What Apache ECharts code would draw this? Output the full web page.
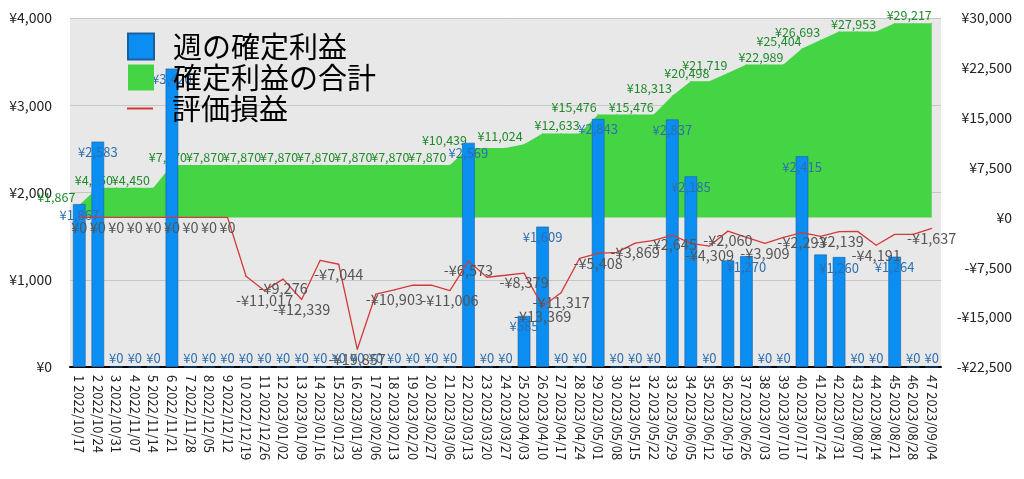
<!DOCTYPE html>
<html>
<head>
<meta charset="utf-8">
<script src="https://cdn.jsdelivr.net/npm/echarts@6/dist/echarts.min.js"></script>
<style>html,body{margin:0;padding:0;background:#fff;}#c{width:1024px;height:479px;}</style>
</head>
<body>
<div id="c"></div>
<script>
const categories = ['1 2022/10/17','2 2022/10/24','3 2022/10/31','4 2022/11/07','5 2022/11/14','6 2022/11/21','7 2022/11/28','8 2022/12/05','9 2022/12/12','10 2022/12/19','11 2022/12/26','12 2023/01/02','13 2023/01/09','14 2023/01/16','15 2023/01/23','16 2023/01/30','17 2023/02/06','18 2023/02/13','19 2023/02/20','20 2023/02/27','21 2023/03/06','22 2023/03/13','23 2023/03/20','24 2023/03/27','25 2023/04/03','26 2023/04/10','27 2023/04/17','28 2023/04/24','29 2023/05/01','30 2023/05/08','31 2023/05/15','32 2023/05/22','33 2023/05/29','34 2023/06/05','35 2023/06/12','36 2023/06/19','37 2023/06/26','38 2023/07/03','39 2023/07/10','40 2023/07/17','41 2023/07/24','42 2023/07/31','43 2023/08/07','44 2023/08/14','45 2023/08/21','46 2023/08/28','47 2023/09/04'];
const weeklyProfit = [1867,2583,0,0,0,3420,0,0,0,0, 0,0,0,0,0,0,0,0,0,0, 0,2569,0,0,585,1609,0,0,2843,0, 0,0,2837,2185,0,1221,1270,0,0,2415, 1289,1260,0,0,1264,0,0];
const cumulativeProfit = [1867,4450,4450,4450,4450,7870,7870,7870,7870,7870, 7870,7870,7870,7870,7870,7870,7870,7870,7870,7870, 7870,10439,10439,10439,11024,12633,12633,12633,15476,15476, 15476,15476,18313,20498,20498,21719,22989,22989,22989,25404, 26693,27953,27953,27953,29217,29217,29217];
const unrealized = [0,0,0,0,0,0,0,0,0,-8850, -11017,-9276,-12339,-6450,-7044,-19857,-11550,-10903,-10200,-10200, -11006,-6573,-9000,-8700,-8379,-13369,-11317,-6150,-5408,-5250, -3869,-3450,-2645,-3900,-4309,-2060,-3000,-3909,-3000,-2293, -2850,-2139,-2100,-4191,-2550,-2550,-1637];
const leftTicks = {min: 0, max: 4000, interval: 1000};
const rightTicks = {min: -22500, max: 30000, interval: 7500};
const seriesNames = ['週の確定利益', '確定利益の合計', '評価損益'];
// which data labels are displayed in the reference (1-based point numbers) and their horizontal nudge
const hiddenBarLabels = [36, 41];
const hiddenLineLabels = [10,14,17,19,20,23,24,28,30,32,34,37,39,41,43,45,46];
const shownAreaLabels = [1,2,4,6,8,10,12,14,16,18,20,22,25,27,29,31,33,34,36,38,40,41,43,46];
const areaLabelNudge = {1:-23, 22:-24, 25:-24, 29:-24, 33:-23, 36:-23, 40:-23, 41:-23};

const FONT = '"Noto Sans CJK JP", "Noto Sans", sans-serif';
function yen(v) {
  const a = Math.abs(Math.round(v)).toLocaleString('en-US');
  return (v < 0 ? '-¥' : '¥') + a;
}

const chart = echarts.init(document.getElementById('c'), null, {renderer: 'canvas'});
const barData = weeklyProfit.map((v, i) => {
  if (hiddenBarLabels.includes(i + 1)) return {value: v, label: {show: false}};
  if (v === 0) return {value: v, label: {position: 'top', distance: 2}};
  return {value: v};
});
const lineData = unrealized.map((v, i) => hiddenLineLabels.includes(i + 1) ? {value: v, label: {show: false}} : {value: v});
const areaData = cumulativeProfit.map((v, i) => {
  const n = i + 1;
  if (!shownAreaLabels.includes(n)) return {value: v, label: {show: false}};
  const dx = (n in areaLabelNudge) ? areaLabelNudge[n] : -4;
  return {value: v, label: {offset: [dx, 0]}};
});

chart.setOption({
  animation: false,
  textStyle: {fontFamily: FONT},
  grid: {left: 70, right: 83, top: 18, bottom: 112, show: true, backgroundColor: '#e8e8e8', borderWidth: 0},
  legend: [
    {
      data: [seriesNames[0], seriesNames[1]],
      orient: 'vertical', left: 122, top: 26, itemWidth: 26, itemHeight: 26, itemGap: 0,
      icon: 'rect',
      textStyle: {fontSize: 29, color: '#000', fontFamily: FONT, lineHeight: 31, padding: [0, 0, 0, 14]}
    },
    {
      data: [seriesNames[2]],
      orient: 'vertical', left: 122, top: 88, itemWidth: 26, itemHeight: 2, itemGap: 0,
      icon: 'rect',
      textStyle: {fontSize: 29, color: '#000', fontFamily: FONT, lineHeight: 31, padding: [0, 0, 0, 14]}
    }
  ],
  xAxis: {
    type: 'category', data: categories,
    axisLine: {lineStyle: {color: '#000', width: 2}},
    axisTick: {show: false},
    axisLabel: {rotate: -90, interval: 0, fontSize: 13, color: '#222', margin: 8, fontFamily: FONT},
    splitLine: {show: false}
  },
  yAxis: [
    {
      type: 'value', min: leftTicks.min, max: leftTicks.max, interval: leftTicks.interval,
      axisLine: {show: false}, axisTick: {show: false},
      axisLabel: {formatter: yen, fontSize: 14, color: '#222', margin: 18, fontFamily: FONT},
      splitLine: {lineStyle: {color: '#c6c6c6', width: 1}}
    },
    {
      type: 'value', min: rightTicks.min, max: rightTicks.max, interval: rightTicks.interval,
      axisLine: {show: false}, axisTick: {show: false},
      axisLabel: {formatter: yen, fontSize: 14, color: '#222', margin: 71, align: 'right', fontFamily: FONT},
      splitLine: {show: false}
    }
  ],
  series: [
    {
      name: seriesNames[1], type: 'line', yAxisIndex: 1, data: areaData,
      symbol: 'circle', symbolSize: 1, showSymbol: true,
      itemStyle: {color: '#44d444'},
      lineStyle: {width: 0, color: '#44d444'},
      areaStyle: {color: '#44d444', opacity: 1},
      label: {show: true, position: 'top', distance: 1, formatter: p => yen(p.value), color: '#1f8a2a', fontSize: 12.5, fontFamily: FONT},
      z: 1
    },
    {
      name: seriesNames[0], type: 'bar', yAxisIndex: 0, data: barData,
      barWidth: '68%',
      itemStyle: {color: '#0a8ef2', borderColor: '#1a5fa0', borderWidth: 0.6},
      label: {show: true, position: 'insideTop', distance: 4, formatter: p => yen(p.value), color: '#2d6fb0', fontSize: 13, fontFamily: FONT},
      z: 2
    },
    {
      name: seriesNames[2], type: 'line', yAxisIndex: 1, data: lineData,
      symbol: 'circle', symbolSize: 1, showSymbol: true,
      itemStyle: {color: '#d43a3a'},
      lineStyle: {width: 1.3, color: '#d43a3a'},
      label: {show: true, position: 'bottom', distance: 2, formatter: p => yen(p.value), color: '#555', fontSize: 14.5, fontFamily: FONT},
      z: 3
    }
  ]
});
</script>
</body>
</html>
